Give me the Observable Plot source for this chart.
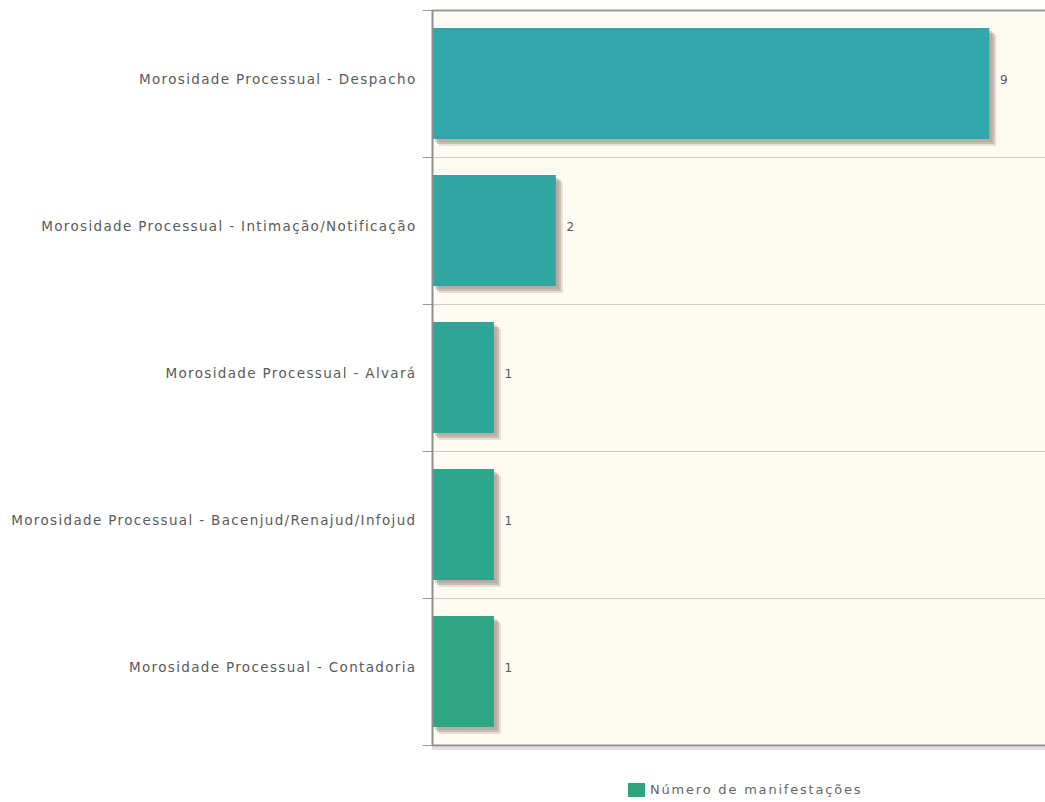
<!DOCTYPE html>
<html>
<head>
<meta charset="utf-8">
<script src="https://cdn.jsdelivr.net/npm/d3@7"></script>
<script src="https://cdn.jsdelivr.net/npm/@observablehq/plot@0.6"></script>
<style>
  html, body { margin: 0; padding: 0; background: #ffffff; }
  #chart svg { display: block; }
  #chart g[aria-label="y-axis tick label"] text { letter-spacing: 1.35px; }
  .legend { font-family: "DejaVu Sans", sans-serif; font-size: 13px; letter-spacing: 1.8px; color: #666; display: flex; align-items: center; margin-left: 628px; margin-top: 12px; }
  .legend .sw { width: 17px; height: 14px; background: #2ea57f; margin-right: 5px; }
</style>
</head>
<body>
<div id="chart"></div>
<script>
const categories = [
  "Morosidade Processual - Despacho",
  "Morosidade Processual - Intimação/Notificação",
  "Morosidade Processual - Alvará",
  "Morosidade Processual - Bacenjud/Renajud/Infojud",
  "Morosidade Processual - Contadoria"
];
const values = [9, 2, 1, 1, 1];
const barColors = ["#31a6ab", "#30a5a1", "#2fa597", "#2ea58d", "#2ea583"];
const seriesName = "Número de manifestações";

const data = categories.map((c, i) => ({category: c, value: values[i], color: barColors[i]}));
const last = [categories[categories.length - 1]];

const step = 147;
const chart = Plot.plot({
  width: 1045,
  height: 770,
  marginLeft: 432,
  marginRight: 0,
  marginTop: 10,
  marginBottom: 25,
  style: {fontFamily: "DejaVu Sans, sans-serif", background: "transparent"},
  x: {domain: [0, 9.9], axis: null},
  y: {domain: categories, paddingInner: 0.245, paddingOuter: 0.1225, label: null},
  marks: [
    Plot.frame({fill: "#fefbf3", stroke: null}),
    Plot.ruleY(categories.slice(1), {y: d => d, x1: 0, x2: 9.9, dy: -step / 2, stroke: "#cfcbc6", strokeWidth: 1}),
    Plot.ruleY(categories, {y: d => d, x1: -0.15, x2: 0, dy: -step / 2, stroke: "#999", strokeWidth: 1}),
    Plot.ruleY(last, {y: d => d, x1: -0.15, x2: 0, dy: step / 2, stroke: "#999", strokeWidth: 1}),
    Plot.ruleY(categories.slice(0, 1), {y: d => d, x1: 0, x2: 9.9, dy: -step / 2, stroke: "#9a9a9a", strokeWidth: 2}),
    Plot.ruleY(last, {y: d => d, x1: 0, x2: 9.9, dy: step / 2 + 3, stroke: "#ccc", strokeWidth: 3, strokeOpacity: 0.6}),
    Plot.ruleY(last, {y: d => d, x1: 0, x2: 9.9, dy: step / 2, stroke: "#8f8f8f", strokeWidth: 2}),
    Plot.barX(data, {y: "category", x: "value", dx: 7, dy: 7, fill: "#c9bcb5", fillOpacity: 0.45}),
    Plot.barX(data, {y: "category", x: "value", dx: 5, dy: 5, fill: "#b4a59d", fillOpacity: 0.6}),
    Plot.barX(data, {y: "category", x: "value", dx: 3, dy: 3, fill: "#a59189", fillOpacity: 0.4}),
    Plot.barX(data, {y: "category", x: "value", fill: "color"}),
    Plot.ruleX([0], {stroke: "#8f8f8f", strokeWidth: 2}),
    Plot.text(data, {y: "category", x: "value", text: d => String(d.value), dx: 14, dy: -4, fill: "#555", fontSize: 12}),
    Plot.axisY({tickSize: 0, tickPadding: 16, fontSize: 13.5, fill: "#5a5a5a", dy: -4})
  ]
});
document.getElementById("chart").appendChild(chart);

const leg = document.createElement("div");
leg.className = "legend";
leg.innerHTML = `<span class="sw"></span><span></span>`;
leg.lastChild.textContent = seriesName;
document.body.appendChild(leg);
</script>
</body>
</html>
